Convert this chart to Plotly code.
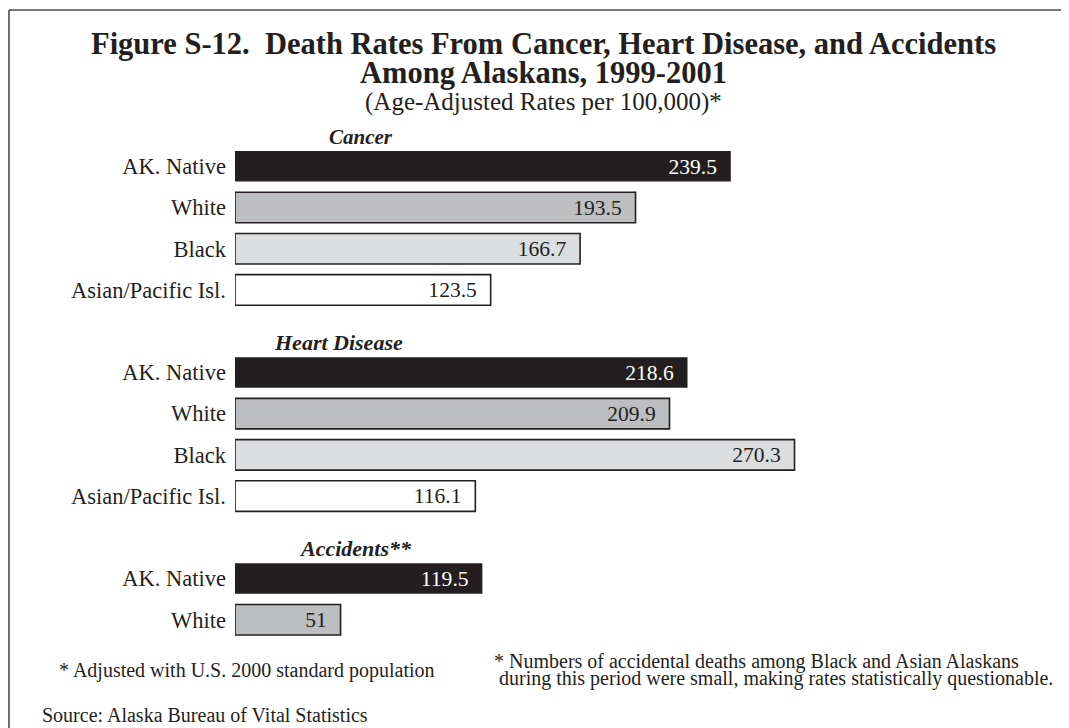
import plotly.graph_objects as go

# ---------------- data ----------------
groups = ["Cancer", "Heart Disease", "Accidents**"]
races = ["AK. Native", "White", "Black", "Asian/Pacific Isl."]
cancer_rates = [239.5, 193.5, 166.7, 123.5]
heart_rates = [218.6, 209.9, 270.3, 116.1]
accident_rates = [119.5, 51]          # AK. Native, White only

title_line1 = "Figure S-12.\u00a0 Death Rates From Cancer, Heart Disease, and Accidents"
title_line2 = "Among Alaskans, 1999-2001"
subtitle = "(Age-Adjusted Rates per 100,000)*"
note1 = "* Adjusted with U.S. 2000 standard population"
note2a = "* Numbers of accidental deaths among Black and Asian Alaskans"
note2b = "during this period were small, making rates statistically questionable."
source = "Source: Alaska Bureau of Vital Statistics"

# ---------------- styles ----------------
FONT = "Liberation Serif, Times New Roman, serif"
INK = "#231f20"
fills = ["#231f20", "#bcbec0", "#dcdddf", "#ffffff"]
line_w = [0, 1.6, 1.6, 1.6]
txt_col = ["#ffffff", INK, INK, INK]

OFF = 8                      # page body margin in the browser
W, H = 1069 - OFF, 728 - OFF
L, T = 235 - OFF, 125 - OFF
PW = 828
ROW = 41.25
PH = 13 * ROW
B = H - T - PH
R = W - L - PW


def px(x):
    """screen x (reference pixels) -> paper x"""
    return (x - OFF - L) / PW


def py(y):
    """screen y (reference pixels) -> paper y"""
    return 1 - (y - OFF - T) / PH


# ---------------- layout of rows ----------------
group_rates = [cancer_rates, heart_rates, accident_rates]
row = 0
group_rows = []
for rates in group_rates:
    rows = list(range(row, row + len(rates)))
    group_rows.append(rows)
    row += len(rates) + 1

fig = go.Figure()
tickvals, ticktext = [], []
for k, race in enumerate(races):
    xs, ys = [], []
    for rates, rows in zip(group_rates, group_rows):
        if k < len(rates):
            xs.append(rates[k])
            ys.append(rows[k])
            tickvals.append(rows[k])
            ticktext.append(race)
    fig.add_trace(go.Bar(
        x=xs, y=ys, orientation="h", width=0.74,
        marker=dict(color=fills[k], line=dict(color=INK, width=line_w[k])),
        text=[f"{v:g}\u00a0\u00a0" for v in xs],
        textposition="inside", insidetextanchor="end", textangle=0,
        textfont=dict(family=FONT, size=22, color=txt_col[k]),
        hoverinfo="skip", showlegend=False,
    ))

annotations = []
header_x = [61, 50, 58]
header_size = [21, 22, 22]
for g, rows, hx, hs in zip(groups, group_rows, header_x, header_size):
    annotations.append(dict(
        x=hx, y=rows[0] - 0.72, xref="x", yref="y",
        text=f"<b><i>{g}</i></b>", showarrow=False,
        font=dict(family=FONT, size=hs, color=INK),
        xanchor="center", yanchor="middle"))

annotations += [
    dict(x=px(543.5), y=py(44), text=f"<b>{title_line1}</b>",
         font=dict(family=FONT, size=30.5, color=INK), xanchor="center"),
    dict(x=px(543.5), y=py(73), text=f"<b>{title_line2}</b>",
         font=dict(family=FONT, size=30.5, color=INK), xanchor="center"),
    dict(x=px(543.5), y=py(102), text=subtitle,
         font=dict(family=FONT, size=25, color=INK), xanchor="center"),
    dict(x=px(57), y=py(671), text=note1,
         font=dict(family=FONT, size=20, color=INK), xanchor="left"),
    dict(x=px(492), y=py(662), text=note2a,
         font=dict(family=FONT, size=20, color=INK), xanchor="left"),
    dict(x=px(497), y=py(679), text=note2b,
         font=dict(family=FONT, size=20, color=INK), xanchor="left"),
    dict(x=px(40), y=py(715), text=source,
         font=dict(family=FONT, size=20, color=INK), xanchor="left"),
]
for a in annotations[len(groups):]:
    a.update(xref="paper", yref="paper", showarrow=False, yanchor="middle")

shapes = [
    dict(type="line", xref="paper", yref="paper",
         x0=px(9), x1=px(1072), y0=py(10), y1=py(10),
         line=dict(color="#4d4d4d", width=1.6)),
    dict(type="line", xref="paper", yref="paper",
         x0=px(9), x1=px(9), y0=py(10), y1=py(731),
         line=dict(color="#4d4d4d", width=1.6)),
]

fig.update_layout(
    width=W, height=H,
    margin=dict(l=L, r=R, t=T, b=B, pad=0),
    paper_bgcolor="white", plot_bgcolor="white",
    barmode="overlay",
    xaxis=dict(range=[0, 400], visible=False, fixedrange=True),
    yaxis=dict(range=[12, -1], tickvals=tickvals, ticktext=ticktext,
               showgrid=False, zeroline=False, showline=False, ticks="",
               ticklabelstandoff=8,
               tickfont=dict(family=FONT, size=22.5, color=INK),
               fixedrange=True),
    annotations=annotations, shapes=shapes,
)

fig.write_html("out.html", config={"displayModeBar": False})
